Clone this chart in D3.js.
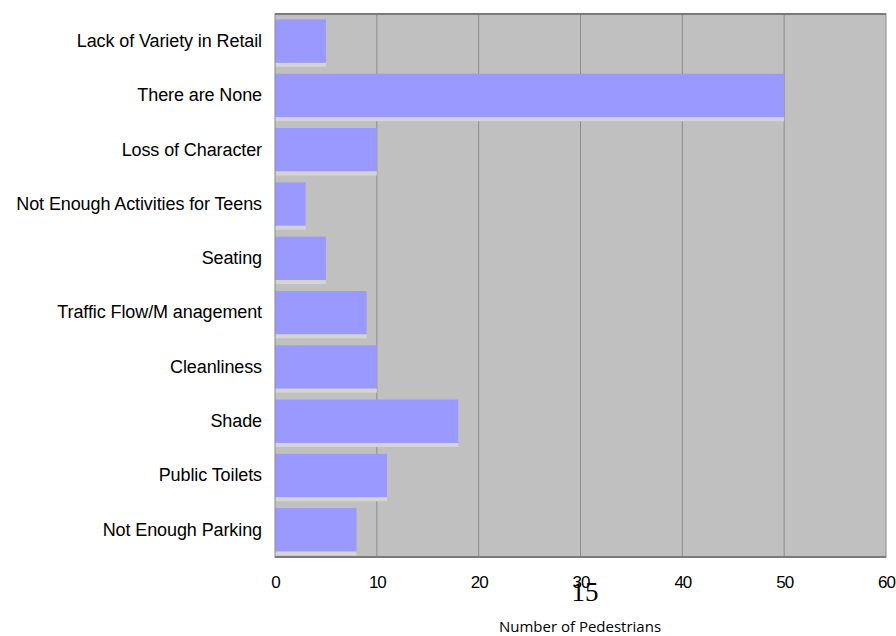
<!DOCTYPE html>
<html>
<head>
<meta charset="utf-8">
<script src="https://cdn.jsdelivr.net/npm/d3@7"></script>
<style>
  body { margin: 0; background: #fff; }
</style>
</head>
<body>
<div id="chart-area"></div>
<script>
// categories top to bottom
var categories = ["Lack of Variety in Retail", "There are None", "Loss of Character",
    "Not Enough Activities for Teens", "Seating", "Traffic Flow/M anagement",
    "Cleanliness", "Shade", "Public Toilets", "Not Enough Parking"];
var values = [5, 50, 10, 3, 5, 9, 10, 18, 11, 8];
var xTicks = [0, 10, 20, 30, 40, 50, 60];

var margin = { left: 275, right: 10, top: 14, bottom: 79 };
var width = 896 - margin.left - margin.right,
    height = 636 - margin.top - margin.bottom;

var svg = d3.select("#chart-area")
    .append("svg")
        .attr("width", 896)
        .attr("height", 636);

var g = svg.append("g")
    .attr("transform", "translate(" + margin.left + ", " + margin.top + ")");

// x scale
var x = d3.scaleLinear()
    .domain([0, 60])
    .range([0, width]);

// y scale
var y = d3.scaleBand()
    .domain(categories)
    .range([0, height])
    .paddingInner(0.2)
    .paddingOuter(0.1);

// plot background
g.append("rect")
    .attr("width", width)
    .attr("height", height)
    .attr("fill", "#c0c0c0");

// grid lines
g.selectAll("line.grid")
    .data(xTicks.slice(1, -1))
    .enter().append("line")
        .attr("class", "grid")
        .attr("x1", function(d){ return x(d); })
        .attr("x2", function(d){ return x(d); })
        .attr("y1", 0)
        .attr("y2", height)
        .attr("stroke", "#8c8c8c")
        .attr("stroke-width", 1);

var data = categories.map(function(c, i){ return { cat: c, value: values[i] }; });

// bars
g.selectAll("rect.bar")
    .data(data)
    .enter().append("rect")
        .attr("class", "bar")
        .attr("x", 0)
        .attr("y", function(d){ return y(d.cat); })
        .attr("width", function(d){ return x(d.value); })
        .attr("height", y.bandwidth())
        .attr("fill", "#9999ff");

// light strip under each bar (3d look)
g.selectAll("rect.shade")
    .data(data)
    .enter().append("rect")
        .attr("class", "shade")
        .attr("x", 0)
        .attr("y", function(d){ return y(d.cat) + y.bandwidth(); })
        .attr("width", function(d){ return x(d.value); })
        .attr("height", 4)
        .attr("fill", "#d4d4d4");

// frame
g.append("rect")
    .attr("width", width)
    .attr("height", height)
    .attr("fill", "none")
    .attr("stroke", "#8a8a8a")
    .attr("stroke-width", 1);
g.append("line")
    .attr("x1", 0).attr("x2", width)
    .attr("y1", 0).attr("y2", 0)
    .attr("stroke", "#7a7a7a")
    .attr("stroke-width", 2);
g.append("line")
    .attr("x1", 0).attr("x2", width)
    .attr("y1", height).attr("y2", height)
    .attr("stroke", "#7a7a7a")
    .attr("stroke-width", 2);

// x axis
var xAxisCall = d3.axisBottom(x)
    .tickValues(xTicks)
    .tickSize(0)
    .tickPadding(19);
var xAxisGroup = g.append("g")
    .attr("transform", "translate(0," + height + ")")
    .call(xAxisCall);
xAxisGroup.select(".domain").remove();
xAxisGroup.selectAll("text")
    .attr("font-family", "Liberation Sans, Arial, sans-serif")
    .attr("font-size", "17px")
    .attr("letter-spacing", "-1px")
    .attr("fill", "#000");

// y axis
var yAxisCall = d3.axisLeft(y)
    .tickSize(0)
    .tickPadding(13);
var yAxisGroup = g.append("g")
    .call(yAxisCall);
yAxisGroup.select(".domain").remove();
yAxisGroup.selectAll("text")
    .attr("font-family", "Liberation Sans, Arial, sans-serif")
    .attr("font-size", "18px")
    .attr("letter-spacing", "-0.1px")
    .attr("fill", "#000");

// page number
svg.append("text")
    .attr("x", 585)
    .attr("y", 601)
    .attr("text-anchor", "middle")
    .attr("font-family", "Liberation Serif, Times New Roman, serif")
    .attr("font-size", "27px")
    .text("15");

// label X
svg.append("text")
    .attr("x", 580)
    .attr("y", 632)
    .attr("text-anchor", "middle")
    .attr("font-family", "Open Sans, sans-serif")
    .attr("font-size", "15px")
    .text("Number of Pedestrians");
</script>
</body>
</html>
